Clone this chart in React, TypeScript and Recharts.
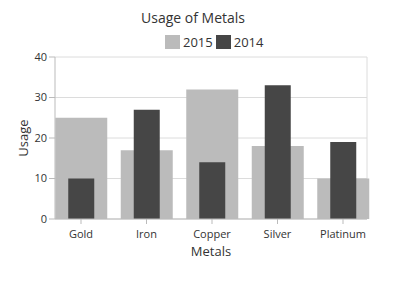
import React from 'react';
import { BarChart, Bar, XAxis, YAxis, CartesianGrid, Legend } from 'recharts';

const categories = ['Gold', 'Iron', 'Copper', 'Silver', 'Platinum'];
const usage2015 = [25, 17, 32, 18, 10];
const usage2014 = [10, 27, 14, 33, 19];
const yTicks = [0, 10, 20, 30, 40];
const seriesOrder = ['2015', '2014'];

const data = categories.map((name, i) => ({ name, y2015: usage2015[i], y2014: usage2014[i] }));

const FONT = '"Open Sans", "Noto Sans", sans-serif';

const LegendContent = (props: any) => {
  const payload = [...(props.payload || [])].sort(
    (a: any, b: any) => seriesOrder.indexOf(String(a.value)) - seriesOrder.indexOf(String(b.value))
  );
  return (
    <div style={{ display: 'flex', alignItems: 'center', fontFamily: FONT, fontSize: 13, color: '#333' }}>
      {payload.map((p: any) => (
        <div key={p.value} style={{ display: 'flex', alignItems: 'center', marginRight: 3 }}>
          <span style={{ display: 'inline-block', width: 15, height: 14, background: p.color, marginRight: 3 }} />
          <span style={{ lineHeight: '14px' }}>{p.value}</span>
        </div>
      ))}
    </div>
  );
};

export default function App() {
  return (
    <div style={{ position: 'absolute', left: 0, top: 0, width: 400, height: 291, background: '#fff' }}>
      <div
        style={{
          position: 'absolute',
          left: 0,
          width: 386,
          top: 8,
          textAlign: 'center',
          fontFamily: FONT,
          fontSize: 14,
          color: '#333',
          lineHeight: '20px',
        }}
      >
        Usage of Metals
      </div>
      <BarChart
        width={400}
        height={291}
        data={data}
        margin={{ top: 57, right: 33, bottom: 32, left: 10 }}
        style={{ position: 'absolute', left: 0, top: 0 }}
      >
        <CartesianGrid vertical={true} verticalPoints={[367]} stroke="#dcdcdc" />
        <XAxis
          xAxisId={0}
          dataKey="name"
          padding={{ left: -6.75, right: -8.75 }}
          tickSize={5}
          tickMargin={6}
          tickLine={{ stroke: '#bbb' }}
          axisLine={{ stroke: '#bbb' }}
          tick={{ fill: '#333', fontSize: 11, fontFamily: FONT }}
          height={40}
          label={{ value: 'Metals', position: 'insideBottom', offset: 3, fill: '#333', fontSize: 13, fontFamily: FONT }}
        />
        <XAxis xAxisId={1} dataKey="name" hide padding={{ left: -6.75, right: -8.75 }} />
        <YAxis
          domain={[0, 40]}
          ticks={yTicks}
          width={45}
          tickSize={6}
          tickMargin={2}
          tickLine={{ stroke: '#bbb' }}
          axisLine={{ stroke: '#bbb' }}
          tick={{ fill: '#333', fontSize: 11, fontFamily: FONT }}
          label={{ value: 'Usage', angle: -90, position: 'insideLeft', offset: 13, fill: '#333', fontSize: 13, fontFamily: FONT, style: { textAnchor: 'middle' } }}
        />
        <Legend
          layout="vertical"
          align="center"
          verticalAlign="middle"
          content={<LegendContent />}
          wrapperStyle={{ position: 'absolute', top: 35, left: 165, width: 'auto', height: 'auto' }}
        />
        <Bar xAxisId={0} dataKey="y2015" name="2015" fill="#bbbbbb" barSize={52} isAnimationActive={false} />
        <Bar xAxisId={1} dataKey="y2014" name="2014" fill="#464646" barSize={26} isAnimationActive={false} />
      </BarChart>
    </div>
  );
}
